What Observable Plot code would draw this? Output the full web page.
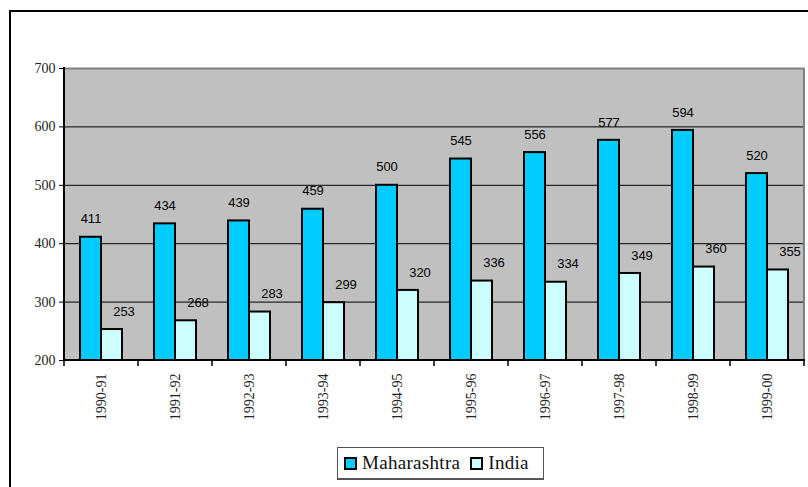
<!DOCTYPE html>
<html><head><meta charset="utf-8">
<script src="https://cdn.jsdelivr.net/npm/d3@7"></script>
<script src="https://cdn.jsdelivr.net/npm/@observablehq/plot@0.6"></script>
<style>
body{margin:0;background:#fff;}
#wrap{position:relative;width:808px;height:487px;overflow:hidden;background:#fff;}
#border{position:absolute;left:9px;top:10px;width:900px;height:600px;border-left:2px solid #000;border-top:2px solid #000;}
#chart{position:absolute;left:0;top:0;}
#legend{position:absolute;left:337px;top:447px;width:207px;height:33px;border:1px solid #555;border-bottom-width:2px;box-sizing:border-box;display:flex;align-items:center;font-family:'Liberation Serif';font-size:19px;color:#111;letter-spacing:0.3px;}
.sw{display:inline-block;width:9px;height:9px;border:2px solid #000;margin:0 5px 0 5px;}
</style></head>
<body>
<div id="wrap"><div id="border"></div><div id="chart"></div><div id="legend"></div></div>
<script>
const years = ["1990-91","1991-92","1992-93","1993-94","1994-95","1995-96","1996-97","1997-98","1998-99","1999-00"];
const maharashtra = [411,434,439,459,500,545,556,577,594,520];
const india = [253,268,283,299,320,336,334,349,360,355];
const series = ["Maharashtra","India"];
const colors = ["#00CCFF","#CCFFFF"];
const yTicks = [200,300,400,500,600,700];

const data = years.flatMap((yr,i)=>[
  {year:yr, series:"Maharashtra", value:maharashtra[i]},
  {year:yr, series:"India", value:india[i]}
]);

const serif = "'Liberation Serif'";
const sans = "'Liberation Sans'";

const plot = Plot.plot({
  width:808, height:440, marginLeft:63, marginRight:4, marginTop:68, marginBottom:80,
  style:{fontFamily:serif, fontSize:"14px", color:"#222", background:"transparent"},
  fx:{domain:years, padding:0, label:null, axis:null},
  x:{domain:series, paddingInner:0, paddingOuter:0.71, axis:null},
  y:{domain:[200,700], label:null, axis:null},
  color:{domain:series, range:colors},
  marks:[
    Plot.frame({fill:"#c0c0c0", stroke:"#c0c0c0", strokeWidth:1}),
    Plot.gridY(yTicks.slice(1,-1), {stroke:"#000", strokeOpacity:1, strokeWidth:1}),
    Plot.ruleY([700], {stroke:"#808080", strokeWidth:2}),
    Plot.barY(data, {fx:"year", x:"series", y1:200, y2:"value", fill:"series", stroke:"#000", strokeWidth:2}),
    Plot.text(data.filter(d=>d.series==="Maharashtra"), {fx:"year", x:"series", y:"value", text:d=>String(d.value), dy:-18, fontFamily:sans, fontSize:13, fill:"#000"}),
    Plot.text(data.filter(d=>d.series==="India"), {fx:"year", x:"series", y:"value", text:d=>String(d.value), dy:-18, dx:12, fontFamily:sans, fontSize:13, fill:"#000"}),
    Plot.axisY({ticks:yTicks, tickSize:5, tickPadding:4, fontFamily:serif, fontSize:14, fill:"#222", stroke:"#000"}),
    Plot.axisFx({anchor:"bottom", tickSize:0, tickPadding:13, tickRotate:-90, fontFamily:serif, fontSize:14, fill:"#222", label:null})
  ]
});
document.getElementById("chart").appendChild(plot);

// axis lines and boundary ticks from the plot's own scales
const fx = plot.scale("fx"), y = plot.scale("y");
const svg = d3.select(plot);
const bw = fx.bandwidth;
const edges = years.map(d=>fx.apply(d)).concat([fx.apply(years[years.length-1])+bw]);
const y0 = y.apply(200), y1 = y.apply(700);
const xL = edges[0], xR = edges[edges.length-1];
const g = svg.append("g");
g.append("line").attr("x1",xR).attr("x2",xR).attr("y1",y1).attr("y2",y0).attr("stroke","#808080").attr("stroke-width",2);
g.append("line").attr("x1",xL).attr("x2",xL).attr("y1",y1-1).attr("y2",y0).attr("stroke","#000").attr("stroke-width",2);
g.append("line").attr("x1",xL).attr("x2",xR+1).attr("y1",y0).attr("y2",y0).attr("stroke","#000").attr("stroke-width",2);
g.selectAll("line.t").data(edges).join("line").attr("class","t")
  .attr("x1",d=>d).attr("x2",d=>d).attr("y1",y0).attr("y2",y0+6).attr("stroke","#000").attr("stroke-width",1.5);

// legend
const lg = d3.select("#legend");
series.forEach((s,i)=>{
  lg.append("span").attr("class","sw").style("background",colors[i]).style("margin-left", i===0?"6px":"10px");
  lg.append("span").text(s);
});
</script>
</body></html>
